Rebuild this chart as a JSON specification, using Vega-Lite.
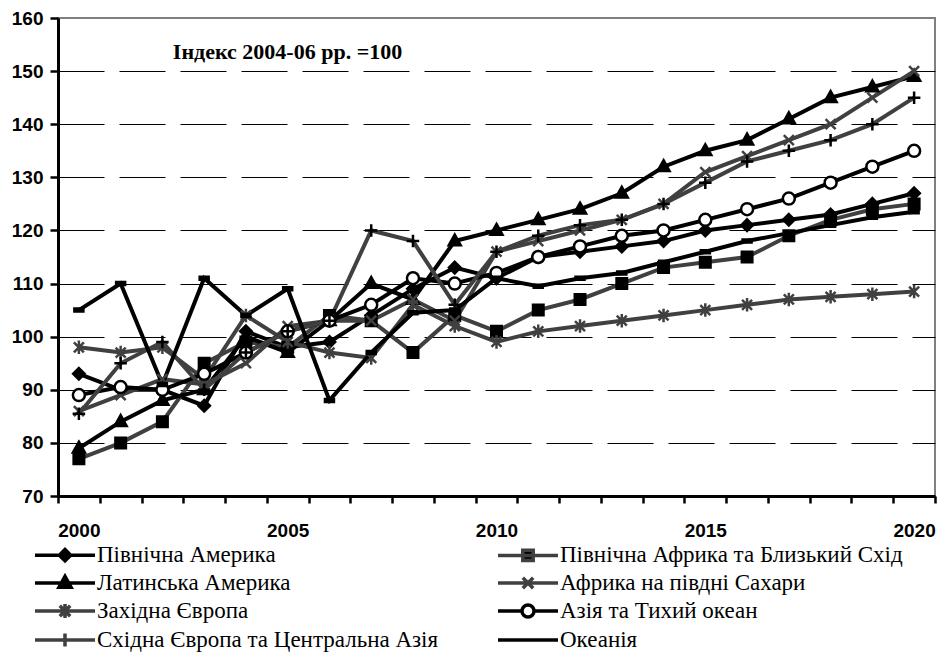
{
  "$schema": "https://vega.github.io/schema/vega-lite/v6.json",
  "width": 877,
  "height": 478,
  "autosize": {"type": "none"},
  "padding": {"left": 58, "top": 18, "right": 6, "bottom": 157},
  "background": "white",
  "config": {
    "view": {"stroke": "#808080", "strokeWidth": 2},
    "legend": {"labelFont": "Liberation Serif", "labelFontSize": 23, "labelColor": "#000000"}
  },
  "datasets": {
    "main": [
      {"year":2000,"region":"Північна Америка","value":93},{"year":2001,"region":"Північна Америка","value":90},{"year":2002,"region":"Північна Америка","value":90},{"year":2003,"region":"Північна Америка","value":87},{"year":2004,"region":"Північна Америка","value":101},{"year":2005,"region":"Північна Америка","value":98},{"year":2006,"region":"Північна Америка","value":99},{"year":2007,"region":"Північна Америка","value":104},{"year":2008,"region":"Північна Америка","value":109},{"year":2009,"region":"Північна Америка","value":113},{"year":2010,"region":"Північна Америка","value":111},{"year":2011,"region":"Північна Америка","value":115},{"year":2012,"region":"Північна Америка","value":116},{"year":2013,"region":"Північна Америка","value":117},{"year":2014,"region":"Північна Америка","value":118},{"year":2015,"region":"Північна Америка","value":120},{"year":2016,"region":"Північна Америка","value":121},{"year":2017,"region":"Північна Америка","value":122},{"year":2018,"region":"Північна Америка","value":123},{"year":2019,"region":"Північна Америка","value":125},{"year":2020,"region":"Північна Америка","value":127},
      {"year":2000,"region":"Північна Африка та Близький Схід","value":77},{"year":2001,"region":"Північна Африка та Близький Схід","value":80},{"year":2002,"region":"Північна Африка та Близький Схід","value":84},{"year":2003,"region":"Північна Африка та Близький Схід","value":95},{"year":2004,"region":"Північна Африка та Близький Схід","value":99},{"year":2005,"region":"Північна Африка та Близький Схід","value":98},{"year":2006,"region":"Північна Африка та Близький Схід","value":104},{"year":2007,"region":"Північна Африка та Близький Схід","value":103},{"year":2008,"region":"Північна Африка та Близький Схід","value":97},{"year":2009,"region":"Північна Африка та Близький Схід","value":104},{"year":2010,"region":"Північна Африка та Близький Схід","value":101},{"year":2011,"region":"Північна Африка та Близький Схід","value":105},{"year":2012,"region":"Північна Африка та Близький Схід","value":107},{"year":2013,"region":"Північна Африка та Близький Схід","value":110},{"year":2014,"region":"Північна Африка та Близький Схід","value":113},{"year":2015,"region":"Північна Африка та Близький Схід","value":114},{"year":2016,"region":"Північна Африка та Близький Схід","value":115},{"year":2017,"region":"Північна Африка та Близький Схід","value":119},{"year":2018,"region":"Північна Африка та Близький Схід","value":122},{"year":2019,"region":"Північна Африка та Близький Схід","value":124},{"year":2020,"region":"Північна Африка та Близький Схід","value":125},
      {"year":2000,"region":"Латинська Америка","value":79},{"year":2001,"region":"Латинська Америка","value":84},{"year":2002,"region":"Латинська Америка","value":88},{"year":2003,"region":"Латинська Америка","value":90},{"year":2004,"region":"Латинська Америка","value":100},{"year":2005,"region":"Латинська Америка","value":97},{"year":2006,"region":"Латинська Америка","value":103},{"year":2007,"region":"Латинська Америка","value":110},{"year":2008,"region":"Латинська Америка","value":107},{"year":2009,"region":"Латинська Америка","value":118},{"year":2010,"region":"Латинська Америка","value":120},{"year":2011,"region":"Латинська Америка","value":122},{"year":2012,"region":"Латинська Америка","value":124},{"year":2013,"region":"Латинська Америка","value":127},{"year":2014,"region":"Латинська Америка","value":132},{"year":2015,"region":"Латинська Америка","value":135},{"year":2016,"region":"Латинська Америка","value":137},{"year":2017,"region":"Латинська Америка","value":141},{"year":2018,"region":"Латинська Америка","value":145},{"year":2019,"region":"Латинська Америка","value":147},{"year":2020,"region":"Латинська Америка","value":149},
      {"year":2000,"region":"Африка на півдні Сахари","value":86},{"year":2001,"region":"Африка на півдні Сахари","value":89},{"year":2002,"region":"Африка на півдні Сахари","value":92},{"year":2003,"region":"Африка на півдні Сахари","value":91},{"year":2004,"region":"Африка на півдні Сахари","value":95},{"year":2005,"region":"Африка на півдні Сахари","value":102},{"year":2006,"region":"Африка на півдні Сахари","value":103},{"year":2007,"region":"Африка на півдні Сахари","value":103},{"year":2008,"region":"Африка на півдні Сахари","value":107},{"year":2009,"region":"Африка на півдні Сахари","value":103},{"year":2010,"region":"Африка на півдні Сахари","value":116},{"year":2011,"region":"Африка на півдні Сахари","value":118},{"year":2012,"region":"Африка на півдні Сахари","value":120},{"year":2013,"region":"Африка на півдні Сахари","value":122},{"year":2014,"region":"Африка на півдні Сахари","value":125},{"year":2015,"region":"Африка на півдні Сахари","value":131},{"year":2016,"region":"Африка на півдні Сахари","value":134},{"year":2017,"region":"Африка на півдні Сахари","value":137},{"year":2018,"region":"Африка на півдні Сахари","value":140},{"year":2019,"region":"Африка на півдні Сахари","value":145},{"year":2020,"region":"Африка на півдні Сахари","value":150},
      {"year":2000,"region":"Західна Європа","value":98},{"year":2001,"region":"Західна Європа","value":97},{"year":2002,"region":"Західна Європа","value":98},{"year":2003,"region":"Західна Європа","value":92},{"year":2004,"region":"Західна Європа","value":104},{"year":2005,"region":"Західна Європа","value":99},{"year":2006,"region":"Західна Європа","value":97},{"year":2007,"region":"Західна Європа","value":96},{"year":2008,"region":"Західна Європа","value":106},{"year":2009,"region":"Західна Європа","value":102},{"year":2010,"region":"Західна Європа","value":99},{"year":2011,"region":"Західна Європа","value":101},{"year":2012,"region":"Західна Європа","value":102},{"year":2013,"region":"Західна Європа","value":103},{"year":2014,"region":"Західна Європа","value":104},{"year":2015,"region":"Західна Європа","value":105},{"year":2016,"region":"Західна Європа","value":106},{"year":2017,"region":"Західна Європа","value":107},{"year":2018,"region":"Західна Європа","value":107.5},{"year":2019,"region":"Західна Європа","value":108},{"year":2020,"region":"Західна Європа","value":108.5},
      {"year":2000,"region":"Азія та Тихий океан","value":89},{"year":2001,"region":"Азія та Тихий океан","value":90.5},{"year":2002,"region":"Азія та Тихий океан","value":90},{"year":2003,"region":"Азія та Тихий океан","value":93},{"year":2004,"region":"Азія та Тихий океан","value":97},{"year":2005,"region":"Азія та Тихий океан","value":101},{"year":2006,"region":"Азія та Тихий океан","value":103},{"year":2007,"region":"Азія та Тихий океан","value":106},{"year":2008,"region":"Азія та Тихий океан","value":111},{"year":2009,"region":"Азія та Тихий океан","value":110},{"year":2010,"region":"Азія та Тихий океан","value":112},{"year":2011,"region":"Азія та Тихий океан","value":115},{"year":2012,"region":"Азія та Тихий океан","value":117},{"year":2013,"region":"Азія та Тихий океан","value":119},{"year":2014,"region":"Азія та Тихий океан","value":120},{"year":2015,"region":"Азія та Тихий океан","value":122},{"year":2016,"region":"Азія та Тихий океан","value":124},{"year":2017,"region":"Азія та Тихий океан","value":126},{"year":2018,"region":"Азія та Тихий океан","value":129},{"year":2019,"region":"Азія та Тихий океан","value":132},{"year":2020,"region":"Азія та Тихий океан","value":135},
      {"year":2000,"region":"Східна Європа та Центральна Азія","value":85.5},{"year":2001,"region":"Східна Європа та Центральна Азія","value":95},{"year":2002,"region":"Східна Європа та Центральна Азія","value":99},{"year":2003,"region":"Східна Європа та Центральна Азія","value":90},{"year":2004,"region":"Східна Європа та Центральна Азія","value":97},{"year":2005,"region":"Східна Європа та Центральна Азія","value":101},{"year":2006,"region":"Східна Європа та Центральна Азія","value":103},{"year":2007,"region":"Східна Європа та Центральна Азія","value":120},{"year":2008,"region":"Східна Європа та Центральна Азія","value":118},{"year":2009,"region":"Східна Європа та Центральна Азія","value":106},{"year":2010,"region":"Східна Європа та Центральна Азія","value":116},{"year":2011,"region":"Східна Європа та Центральна Азія","value":119},{"year":2012,"region":"Східна Європа та Центральна Азія","value":121},{"year":2013,"region":"Східна Європа та Центральна Азія","value":122},{"year":2014,"region":"Східна Європа та Центральна Азія","value":125},{"year":2015,"region":"Східна Європа та Центральна Азія","value":129},{"year":2016,"region":"Східна Європа та Центральна Азія","value":133},{"year":2017,"region":"Східна Європа та Центральна Азія","value":135},{"year":2018,"region":"Східна Європа та Центральна Азія","value":137},{"year":2019,"region":"Східна Європа та Центральна Азія","value":140},{"year":2020,"region":"Східна Європа та Центральна Азія","value":145},
      {"year":2000,"region":"Океанія","value":105},{"year":2001,"region":"Океанія","value":110},{"year":2002,"region":"Океанія","value":91},{"year":2003,"region":"Океанія","value":111},{"year":2004,"region":"Океанія","value":104},{"year":2005,"region":"Океанія","value":109},{"year":2006,"region":"Океанія","value":88},{"year":2007,"region":"Океанія","value":97},{"year":2008,"region":"Океанія","value":104.5},{"year":2009,"region":"Океанія","value":105},{"year":2010,"region":"Океанія","value":111},{"year":2011,"region":"Океанія","value":109.5},{"year":2012,"region":"Океанія","value":111},{"year":2013,"region":"Океанія","value":112},{"year":2014,"region":"Океанія","value":114},{"year":2015,"region":"Океанія","value":116},{"year":2016,"region":"Океанія","value":118},{"year":2017,"region":"Океанія","value":119.5},{"year":2018,"region":"Океанія","value":121},{"year":2019,"region":"Океанія","value":122.5},{"year":2020,"region":"Океанія","value":123.5}
    ]
  },
  "layer": [
    {
      "data": {"name": "main"},
      "mark": {"type": "line", "strokeWidth": 4},
      "encoding": {
        "x": {
          "field": "year", "type": "quantitative",
          "scale": {"domain": [1999.5, 2020.5], "nice": false, "zero": false},
          "axis": {
            "title": null,
            "values": [1999.5,2000.5,2001.5,2002.5,2003.5,2004.5,2005.5,2006.5,2007.5,2008.5,2009.5,2010.5,2011.5,2012.5,2013.5,2014.5,2015.5,2016.5,2017.5,2018.5,2019.5,2020.5],
            "labelExpr": "((datum.value + 0.5) % 5 == 0 && datum.value < 2020) ? format(datum.value + 0.5, 'd') : ''",
            "labelOffset": 20.88,
            "labelFlush": false,
            "labelOverlap": false,
            "labelFont": "Liberation Sans",
            "labelFontWeight": "bold",
            "labelFontSize": 19,
            "labelColor": "#000000",
            "labelPadding": 18,
            "tickSize": 7,
            "tickWidth": 2.5,
            "tickColor": "#000000",
            "domainColor": "#000000",
            "domainWidth": 3,
            "grid": false
          }
        },
        "y": {
          "field": "value", "type": "quantitative",
          "scale": {"domain": [70, 160], "nice": false, "zero": false},
          "axis": {
            "title": null,
            "values": [70,80,90,100,110,120,130,140,150,160],
            "labelFont": "Liberation Sans",
            "labelFontWeight": "bold",
            "labelFontSize": 19,
            "labelColor": "#000000",
            "labelPadding": 7,
            "tickSize": 8,
            "tickWidth": 2.5,
            "tickColor": "#000000",
            "domainColor": "#000000",
            "domainWidth": 3,
            "grid": true,
            "gridColor": "#000000",
            "gridWidth": 1,
            "gridDash": [46, 15],
            "gridOpacity": {"condition": {"test": "datum.value == 70 || datum.value == 160", "value": 0}, "value": 1}
          }
        },
        "color": {
          "field": "region", "type": "nominal",
          "scale": {
            "domain": ["Північна Америка","Північна Африка та Близький Схід","Латинська Америка","Африка на півдні Сахари","Західна Європа","Азія та Тихий океан","Східна Європа та Центральна Азія","Океанія"],
            "range": ["#000000","#404040","#000000","#404040","#404040","#000000","#404040","#000000"]
          },
          "legend": null
        }
      }
    },
    {
      "data": {"name": "main"},
      "mark": {"type": "point", "opacity": 1, "size": 100, "strokeWidth": 2.5},
      "encoding": {
        "x": {"field": "year", "type": "quantitative"},
        "y": {"field": "value", "type": "quantitative"},
        "shape": {
          "field": "region", "type": "nominal",
          "scale": {
            "domain": ["Північна Америка","Північна Африка та Близький Схід","Латинська Америка","Африка на півдні Сахари","Західна Європа","Азія та Тихий океан","Східна Європа та Центральна Азія","Океанія"],
            "range": [
              "M0,-1.15L1.15,0L0,1.15L-1.15,0Z",
              "M-1.05,-1.05H1.05V1.05H-1.05Z",
              "M0,-1.3L1.2,0.85H-1.2Z",
              "M-1,-1L1,1M-1,1L1,-1",
              "M-1,-1L1,1M-1,1L1,-1M0,-1.35V1.35",
              "M-1.2,0A1.2,1.2 0 1,1 1.2,0A1.2,1.2 0 1,1 -1.2,0Z",
              "M-1.25,0H1.25M0,-1.25V1.25",
              "M-0.9,-0.3H0.9V0.3H-0.9Z"
            ]
          },
          "legend": null
        },
        "fill": {
          "field": "region", "type": "nominal",
          "scale": {
            "domain": ["Північна Америка","Північна Африка та Близький Схід","Латинська Америка","Африка на півдні Сахари","Західна Європа","Азія та Тихий океан","Східна Європа та Центральна Азія","Океанія"],
            "range": ["#000000","#000000","#000000","#404040","#404040","#ffffff","#000000","#000000"]
          },
          "legend": null
        },
        "stroke": {
          "field": "region", "type": "nominal",
          "scale": {
            "domain": ["Північна Америка","Північна Африка та Близький Схід","Латинська Америка","Африка на півдні Сахари","Західна Європа","Азія та Тихий океан","Східна Європа та Центральна Азія","Океанія"],
            "range": ["#000000","#000000","#000000","#404040","#404040","#000000","#000000","#000000"]
          },
          "legend": null
        }
      }
    },
    {
      "data": {"name": "main"},
      "mark": {"type": "point", "opacity": 0, "strokeWidth": 3.5},
      "encoding": {
        "x": {"field": "year", "type": "quantitative"},
        "y": {"field": "value", "type": "quantitative"},
        "shape": {
          "field": "region", "type": "nominal",
          "scale": {
            "domain": ["Північна Америка","Латинська Америка","Західна Європа","Східна Європа та Центральна Азія","Північна Африка та Близький Схід","Африка на півдні Сахари","Азія та Тихий океан","Океанія"],
            "range": [
              "M-3,0H3M0,-0.57L0.57,0L0,0.57L-0.57,0Z",
              "M-3,0H3M0,-0.66L0.6,0.42H-0.6Z",
              "M-3,0H3M-0.52,-0.52L0.52,0.52M-0.52,0.52L0.52,-0.52M0,-0.7V0.7",
              "M-3,0H3M0,-0.66V0.66",
              "M-3,0H3M-0.52,-0.52H0.52V0.52H-0.52Z",
              "M-3,0H3M-0.52,-0.52L0.52,0.52M-0.52,0.52L0.52,-0.52",
              "M-3,0H-0.6M0.6,0H3M-0.6,0A0.6,0.6 0 1,1 0.6,0A0.6,0.6 0 1,1 -0.6,0Z",
              "M-3,0H3"
            ]
          },
          "legend": {"orient": "none", "legendX": -23, "legendY": 525, "columns": 2, "title": null, "symbolSize": 400, "symbolStrokeWidth": 3.5, "symbolOpacity": 1, "symbolOffset": 18, "labelFont": "Liberation Serif", "labelFontSize": 23, "labelColor": "#000000", "labelOffset": 20, "labelLimit": 600, "rowPadding": 1, "columnPadding": 52, "padding": 0}
        },
        "fill": {
          "field": "region", "type": "nominal",
          "scale": {
            "domain": ["Північна Америка","Латинська Америка","Західна Європа","Східна Європа та Центральна Азія","Північна Африка та Близький Схід","Африка на півдні Сахари","Азія та Тихий океан","Океанія"],
            "range": ["#000000","#000000","#404040","#000000","#000000","#404040","#ffffff","#000000"]
          },
          "legend": {"orient": "none", "legendX": -23, "legendY": 525, "columns": 2, "title": null, "symbolSize": 400, "symbolStrokeWidth": 3.5, "symbolOpacity": 1, "symbolOffset": 18, "labelFont": "Liberation Serif", "labelFontSize": 23, "labelColor": "#000000", "labelOffset": 20, "labelLimit": 600, "rowPadding": 1, "columnPadding": 52, "padding": 0}
        },
        "stroke": {
          "field": "region", "type": "nominal",
          "scale": {
            "domain": ["Північна Америка","Латинська Америка","Західна Європа","Східна Європа та Центральна Азія","Північна Африка та Близький Схід","Африка на півдні Сахари","Азія та Тихий океан","Океанія"],
            "range": ["#000000","#000000","#404040","#404040","#404040","#404040","#000000","#000000"]
          },
          "legend": {"orient": "none", "legendX": -23, "legendY": 525, "columns": 2, "title": null, "symbolSize": 400, "symbolStrokeWidth": 3.5, "symbolOpacity": 1, "symbolOffset": 18, "labelFont": "Liberation Serif", "labelFontSize": 23, "labelColor": "#000000", "labelOffset": 20, "labelLimit": 600, "rowPadding": 1, "columnPadding": 52, "padding": 0}
        }
      }
    },
    {
      "data": {"values": [{"label": "Індекс 2004-06 рр. =100"}]},
      "mark": {"type": "text", "align": "left", "baseline": "middle", "font": "Liberation Serif", "fontSize": 22, "fontWeight": "bold", "color": "#000000"},
      "encoding": {
        "x": {"datum": 2002.25, "type": "quantitative"},
        "y": {"datum": 153.6, "type": "quantitative"},
        "text": {"field": "label", "type": "nominal"}
      }
    }
  ],
  "resolve": {"scale": {"shape": "independent", "fill": "independent", "stroke": "independent"}}
}
